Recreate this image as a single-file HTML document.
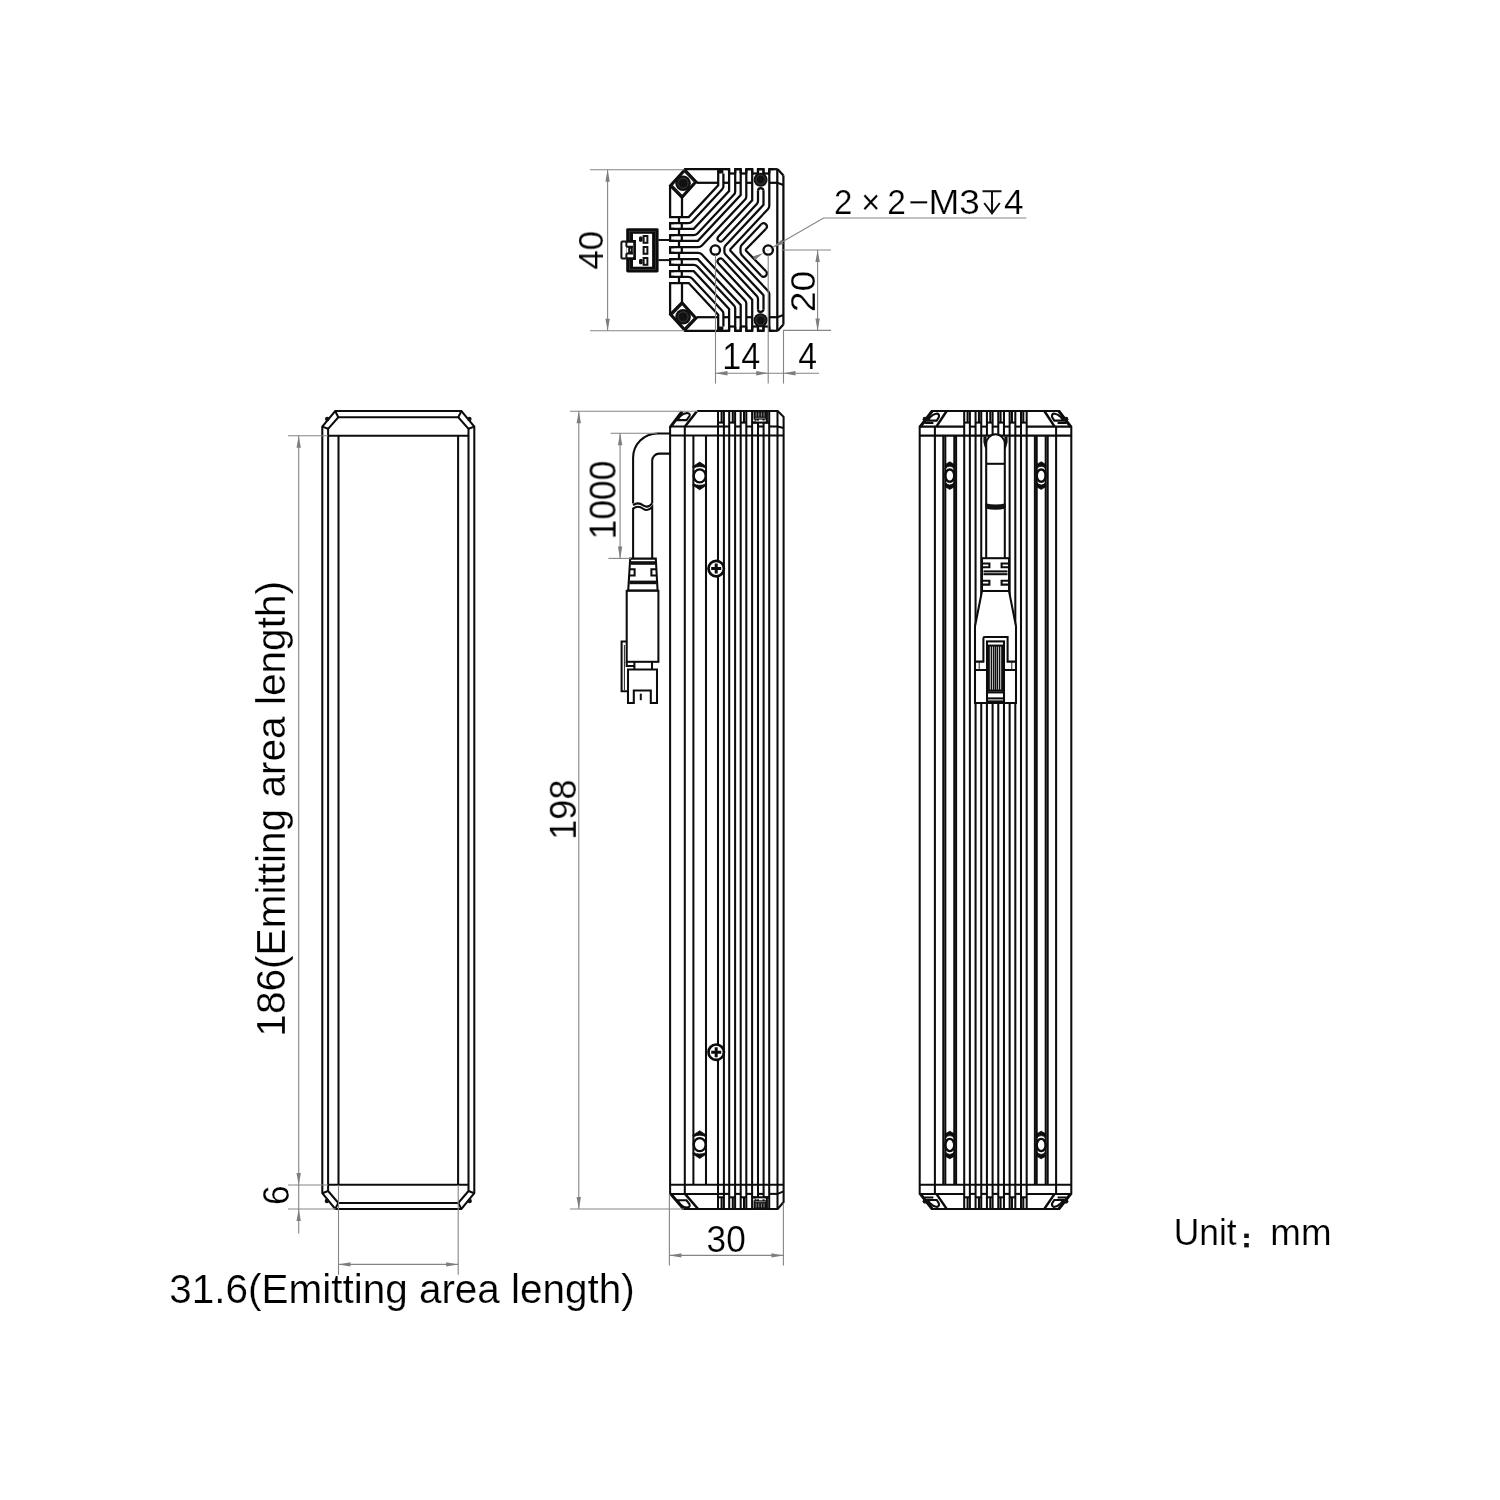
<!DOCTYPE html>
<html><head><meta charset="utf-8"><title>Dimension drawing</title>
<style>
html,body{margin:0;padding:0;background:#fff}
svg{display:block}
.k{fill:none;stroke:#0c0c0c;stroke-width:2.05;stroke-linejoin:miter;stroke-linecap:butt}
.kw{fill:#fff;stroke:#0c0c0c;stroke-width:2.05}
.k25{fill:none;stroke:#0c0c0c;stroke-width:2.5}
.wl{fill:none;stroke:#bbb;stroke-width:0.7}
.wl2{fill:none;stroke:#fff;stroke-width:1.3}
.k1{fill:none;stroke:#222;stroke-width:1}
.k14{fill:none;stroke:#111;stroke-width:1.5}
.kn{fill:none;stroke:#0c0c0c;stroke-width:2.4;stroke-linejoin:miter}
.k2{fill:none;stroke:#111;stroke-width:2}
.k2w{fill:#fff;stroke:#0c0c0c;stroke-width:2.7}
.k3{fill:none;stroke:#0c0c0c;stroke-width:3.0}
.kf{fill:#111;stroke:none}
.kfs{fill:#0c0c0c;stroke:#0c0c0c;stroke-width:0.8;stroke-linejoin:round}
.kt{fill:none;stroke:#0c0c0c;stroke-width:2.25;stroke-linejoin:miter;stroke-linecap:butt}
.ktw{fill:#fff;stroke:#0c0c0c;stroke-width:2.4}
.ring{fill:none;stroke:#555;stroke-width:0.6}
.g{fill:none;stroke:#858585;stroke-width:1.1}
.ar{fill:#7e7e7e;stroke:none}
.gf{fill:none;stroke:#bdbdbd;stroke-width:0.8;stroke-dasharray:1.6 1.2}
.t{font-family:"Liberation Sans",sans-serif;fill:#000;stroke:#fff;stroke-width:0.22px;paint-order:fill stroke}
.ts{fill:none;stroke:#111;stroke-width:2}
</style></head>
<body>
<svg width="1500" height="1500" viewBox="0 0 1500 1500">
<rect width="1500" height="1500" fill="#fff"/>
<g id="left">
<path class="k" d="M335.2 411L461.4 411L474.3 426.6L474.3 1193.2L461.4 1209L335.2 1209L322.3 1193.2L322.3 426.6Z"/>
<path class="k" d="M338.3 417.3L458.3 417.3L468.5 428.8L468.5 1191L458.3 1202.9L338.3 1202.9L328.1 1191L328.1 428.8Z"/>
<path class="k" d="M335.2 411L338.3 417.3"/>
<path class="k" d="M461.4 411L458.3 417.3"/>
<path class="k" d="M322.3 426.6L328.1 428.8"/>
<path class="k" d="M474.3 426.6L468.5 428.8"/>
<path class="k" d="M335.2 1209L338.3 1202.9"/>
<path class="k" d="M461.4 1209L458.3 1202.9"/>
<path class="k" d="M322.3 1193.2L328.1 1191"/>
<path class="k" d="M474.3 1193.2L468.5 1191"/>
<path class="k" d="M328.1 435.7L468.5 435.7"/>
<path class="k" d="M328.1 1184.8L468.5 1184.8"/>
<path class="k" d="M338.5 435.7L338.5 1184.8"/>
<path class="k" d="M458.1 435.7L458.1 1184.8"/>
<circle class="kf" cx="327.2" cy="419" r="2.2"/>
<circle class="kf" cx="469.4" cy="419" r="2.2"/>
<circle class="kf" cx="326.9" cy="1201" r="2.2"/>
<circle class="kf" cx="469.7" cy="1201" r="2.2"/>
</g>
<g id="mid">
<path class="k" d="M697 411L777.7 411L783.6 416.9L783.6 1202L777.7 1208.9L683 1208.9L670.1 1193.9L670.1 426.5L681.6 411.3"/>
<path class="k" d="M670.9 427.1L682.6 411.6"/>
<path class="k" d="M670.9 1193.3L683.8 1208.3"/>
<path class="k" d="M670.1 435.5L783.6 435.5"/>
<path class="k" d="M670.1 1184.8L783.6 1184.8"/>
<path class="k" d="M670.1 426.5L718 426.5"/>
<path class="k" d="M670.1 1193.9L718 1193.9"/>
<path class="k" d="M684.8 435.5L684.8 1184.8"/>
<path class="k" d="M693.4 435.5L693.4 1184.8"/>
<path class="k" d="M706 435.5L706 1184.8"/>
<path class="k" d="M718 435.5L718 1184.8"/>
<path class="k" d="M723.9 435.5L723.9 1184.8"/>
<path class="k" d="M729.2 435.5L729.2 1184.8"/>
<path class="k" d="M735.1 435.5L735.1 1184.8"/>
<path class="k" d="M740.7 435.5L740.7 1184.8"/>
<path class="k" d="M746.3 435.5L746.3 1184.8"/>
<path class="k" d="M752.1 435.5L752.1 1184.8"/>
<path class="k" d="M758 435.5L758 1184.8"/>
<path class="k" d="M763.6 435.5L763.6 1184.8"/>
<path class="k" d="M769.2 435.5L769.2 1184.8"/>
<path class="k" d="M777.5 435.5L777.5 1184.8"/>
<path class="k" d="M684.8 426.5L684.8 435.5"/>
<path class="k" d="M684.8 1184.8L684.8 1193.9"/>
<path class="k" d="M718 411L718 435.5"/>
<path class="k" d="M718 1184.8L718 1208.9"/>
<path class="k" d="M723.9 411L723.9 435.5"/>
<path class="k" d="M723.9 1184.8L723.9 1208.9"/>
<path class="k" d="M729.2 411L729.2 435.5"/>
<path class="k" d="M729.2 1184.8L729.2 1208.9"/>
<path class="k" d="M735.1 411L735.1 435.5"/>
<path class="k" d="M735.1 1184.8L735.1 1208.9"/>
<path class="k" d="M740.7 411L740.7 435.5"/>
<path class="k" d="M740.7 1184.8L740.7 1208.9"/>
<path class="k" d="M746.3 411L746.3 435.5"/>
<path class="k" d="M746.3 1184.8L746.3 1208.9"/>
<path class="k" d="M752.1 411L752.1 435.5"/>
<path class="k" d="M752.1 1184.8L752.1 1208.9"/>
<path class="k" d="M758 411L758 435.5"/>
<path class="k" d="M758 1184.8L758 1208.9"/>
<path class="k" d="M763.6 411L763.6 435.5"/>
<path class="k" d="M763.6 1184.8L763.6 1208.9"/>
<path class="k" d="M769.2 411L769.2 435.5"/>
<path class="k" d="M769.2 1184.8L769.2 1208.9"/>
<path class="k" d="M777.5 411L777.5 435.5"/>
<path class="k" d="M777.5 1184.8L777.5 1208.9"/>
<path class="k" d="M718 422.6L723.9 422.6"/>
<path class="k" d="M721.6 411L721.6 422.6"/>
<path class="k" d="M718 426.5L723.9 426.5"/>
<path class="k" d="M723.9 426.5L729.2 426.5"/>
<path class="k" d="M729.2 422.6L735.1 422.6"/>
<path class="k" d="M732.8 411L732.8 422.6"/>
<path class="k" d="M735.1 426.5L740.7 426.5"/>
<path class="k" d="M740.7 422.6L746.3 422.6"/>
<path class="k" d="M744 411L744 422.6"/>
<path class="k" d="M746.3 426.5L752.1 426.5"/>
<path class="k" d="M752.1 422.6L758 422.6"/>
<path class="k" d="M755.7 411L755.7 422.6"/>
<path class="k" d="M758 426.5L763.6 426.5"/>
<path class="k" d="M763.6 422.6L769.2 422.6"/>
<path class="k" d="M766.9 411L766.9 422.6"/>
<path class="k" d="M769.2 426.5L777.5 426.5"/>
<path class="k" d="M718 1197.3L723.9 1197.3"/>
<path class="k" d="M721.6 1208.9L721.6 1197.3"/>
<path class="k" d="M718 1193.9L723.9 1193.9"/>
<path class="k" d="M723.9 1193.9L729.2 1193.9"/>
<path class="k" d="M729.2 1197.3L735.1 1197.3"/>
<path class="k" d="M732.8 1208.9L732.8 1197.3"/>
<path class="k" d="M735.1 1193.9L740.7 1193.9"/>
<path class="k" d="M740.7 1197.3L746.3 1197.3"/>
<path class="k" d="M744 1208.9L744 1197.3"/>
<path class="k" d="M746.3 1193.9L752.1 1193.9"/>
<path class="k" d="M752.1 1197.3L758 1197.3"/>
<path class="k" d="M755.7 1208.9L755.7 1197.3"/>
<path class="k" d="M758 1193.9L763.6 1193.9"/>
<path class="k" d="M763.6 1197.3L769.2 1197.3"/>
<path class="k" d="M766.9 1208.9L766.9 1197.3"/>
<path class="k" d="M769.2 1193.9L777.5 1193.9"/>
<path class="k" d="M777.5 426.5L783.6 428"/>
<path class="k" d="M777.5 1193.9L783.6 1191.4"/>
<rect class="kf" x="753.6" y="411" width="13.0" height="8.6"/>
<path class="wl" d="M755 418.2L765.4 418.2"/>
<path class="wl2" d="M755.4 421.2L765 421.2"/>
<path class="k" d="M752.1 422.6L769.2 422.6"/>
<path class="wl" d="M756.2 412.4L756.2 416.6"/>
<path class="wl" d="M758.8 412.4L758.8 416.6"/>
<path class="wl" d="M761.4 412.4L761.4 416.6"/>
<path class="wl" d="M764 412.4L764 416.6"/>
<rect class="kf" x="753.6" y="1200.3" width="13.0" height="8.6"/>
<path class="wl" d="M755 1201.7L765.4 1201.7"/>
<path class="wl2" d="M755.4 1198.7L765 1198.7"/>
<path class="k" d="M752.1 1197.3L769.2 1197.3"/>
<path class="wl" d="M756.2 1207.5L756.2 1203.3"/>
<path class="wl" d="M758.8 1207.5L758.8 1203.3"/>
<path class="wl" d="M761.4 1207.5L761.4 1203.3"/>
<path class="wl" d="M764 1207.5L764 1203.3"/>
<path class="k25" d="M685 426.5L696.9 411.2"/>
<path class="k25" d="M685 1193.9L697.9 1208.7"/>
<path class="k" d="M677.3 420.1L680.1 416.3Q682.7 413.3 687.1 412.9Q690.5 413.1 689.5 416.1L686.5 420.1Z"/>
<path class="k" d="M677.3 1200.3L680.1 1204.1Q682.7 1207.1 687.1 1207.5Q690.5 1207.3 689.5 1204.3L686.5 1200.3Z"/>
<path class="kfs" d="M692.8 466.6L699.7 462.1L706.6 466.6L706 468Q699.7 464.9 693.4 468Z"/>
<path class="kfs" d="M692.8 485.2L699.7 489.7L706.6 485.2L706 483.8Q699.7 486.9 693.4 483.8Z"/>
<ellipse class="kn" cx="699.7" cy="475.9" rx="6" ry="6.5"/>
<path class="kfs" d="M692.8 1135.3L699.7 1130.8L706.6 1135.3L706 1136.7Q699.7 1133.6 693.4 1136.7Z"/>
<path class="kfs" d="M692.8 1153.9L699.7 1158.4L706.6 1153.9L706 1152.5Q699.7 1155.6 693.4 1152.5Z"/>
<ellipse class="kn" cx="699.7" cy="1144.6" rx="6" ry="6.5"/>
<circle class="k2w" cx="716.2" cy="568.6" r="7.7"/>
<path class="k3" d="M711.2 568.6H721.2M716.2 563.6V573.6"/>
<circle class="k2w" cx="716.2" cy="1052.2" r="7.7"/>
<path class="k3" d="M711.2 1052.2H721.2M716.2 1047.2V1057.2"/>
<path class="k" d="M670.1 433.4H657.5A24.4 24.4 0 0 0 633.1 457.8V503.4"/>
<path class="k" d="M670.1 453.6H659.2A7 7 0 0 0 652.2 460.6V503.4"/>
<path class="k" d="M633.1 505.2C636.5 502.6 640.5 503.4 643.2 505.4C646.3 507.4 649.6 506.6 652.2 503.4"/>
<path class="k" d="M633.1 558.4V508.6C636.5 506 640.5 506.8 643.2 508.8C646.3 510.8 649.6 510 652.2 506.8V558.4"/>
<path class="kw" d="M630.2 558.6L655.8 558.6L657.6 590.6L628.2 590.6Z"/>
<rect class="kf" x="630.8" y="561.2" width="24.4" height="3.6"/>
<rect class="kf" x="629.4" y="580.6" width="27.2" height="3.6"/>
<path class="k" d="M629.6 569.2H634.6V575.4H629.2"/>
<path class="k" d="M656.4 569.2H651.4V575.4H656.8"/>
<rect class="kw" x="626.7" y="590.8" width="31.7" height="71"/>
<path class="k" d="M626.7 641.4H621.6V691.2H628"/>
<path class="k1" d="M624.4 645V690"/>
<path class="k" d="M626.7 661.8V666H634.4"/>
<path class="k" d="M634.4 661.8V669.4M652 661.8V669.4"/>
<path class="kw" d="M628 669.4H657V703H650.8V690.4H633.8V703H628Z"/>
<path class="k2" d="M640.8 693.6L640.8 700.2"/>
</g>
<g id="right">
<path class="k" d="M931.6 411L1059.4 411L1071.3 426.6L1071.3 1193.9L1059.4 1208.9L931.6 1208.9L919.7 1193.9L919.7 426.6Z"/>
<path class="k" d="M920.5 427.2L932.4 411.6"/>
<path class="k" d="M1070.5 427.2L1058.6 411.6"/>
<path class="k" d="M920.5 1193.3L932.4 1208.3"/>
<path class="k" d="M1070.5 1193.3L1058.6 1208.3"/>
<path class="k" d="M919.7 435.6L1071.3 435.6"/>
<path class="k" d="M919.7 1184.8L1071.3 1184.8"/>
<path class="k" d="M919.7 426.6L964.2 426.6"/>
<path class="k" d="M1026.68 426.6L1071.3 426.6"/>
<path class="k" d="M919.7 1193.9L964.2 1193.9"/>
<path class="k" d="M1026.68 1193.9L1071.3 1193.9"/>
<path class="k" d="M934.9 435.6L934.9 1184.8"/>
<path class="k" d="M1056.1 435.6L1056.1 1184.8"/>
<path class="k" d="M943.3 435.6L943.3 1184.8"/>
<path class="k" d="M1047.7 435.6L1047.7 1184.8"/>
<path class="k" d="M945.3 435.6L945.3 1184.8"/>
<path class="k" d="M1045.7 435.6L1045.7 1184.8"/>
<path class="k" d="M954.3 435.6L954.3 1184.8"/>
<path class="k" d="M1036.7 435.6L1036.7 1184.8"/>
<path class="k" d="M956.1 435.6L956.1 1184.8"/>
<path class="k" d="M1034.9 435.6L1034.9 1184.8"/>
<path class="k" d="M934.9 426.6L934.9 435.6"/>
<path class="k" d="M934.9 1184.8L934.9 1193.9"/>
<path class="k" d="M1056.1 426.6L1056.1 435.6"/>
<path class="k" d="M1056.1 1184.8L1056.1 1193.9"/>
<path class="k" d="M964.2 435.6L964.2 1184.8"/>
<path class="k" d="M964.2 411L964.2 435.6"/>
<path class="k" d="M964.2 1184.8L964.2 1208.9"/>
<path class="k" d="M969.88 435.6L969.88 1184.8"/>
<path class="k" d="M969.88 411L969.88 435.6"/>
<path class="k" d="M969.88 1184.8L969.88 1208.9"/>
<path class="k" d="M975.56 435.6L975.56 1184.8"/>
<path class="k" d="M975.56 411L975.56 435.6"/>
<path class="k" d="M975.56 1184.8L975.56 1208.9"/>
<path class="k" d="M981.24 435.6L981.24 597"/>
<path class="k" d="M981.24 703L981.24 1184.8"/>
<path class="k" d="M981.24 411L981.24 435.6"/>
<path class="k" d="M981.24 1184.8L981.24 1208.9"/>
<path class="k" d="M986.92 703L986.92 1184.8"/>
<path class="k" d="M986.92 411L986.92 435.6"/>
<path class="k" d="M986.92 1184.8L986.92 1208.9"/>
<path class="k" d="M992.6 703L992.6 1184.8"/>
<path class="k" d="M992.6 411L992.6 435.6"/>
<path class="k" d="M992.6 1184.8L992.6 1208.9"/>
<path class="k" d="M998.28 703L998.28 1184.8"/>
<path class="k" d="M998.28 411L998.28 435.6"/>
<path class="k" d="M998.28 1184.8L998.28 1208.9"/>
<path class="k" d="M1003.96 703L1003.96 1184.8"/>
<path class="k" d="M1003.96 411L1003.96 435.6"/>
<path class="k" d="M1003.96 1184.8L1003.96 1208.9"/>
<path class="k" d="M1009.64 435.6L1009.64 597"/>
<path class="k" d="M1009.64 703L1009.64 1184.8"/>
<path class="k" d="M1009.64 411L1009.64 435.6"/>
<path class="k" d="M1009.64 1184.8L1009.64 1208.9"/>
<path class="k" d="M1015.32 435.6L1015.32 1184.8"/>
<path class="k" d="M1015.32 411L1015.32 435.6"/>
<path class="k" d="M1015.32 1184.8L1015.32 1208.9"/>
<path class="k" d="M1021 435.6L1021 1184.8"/>
<path class="k" d="M1021 411L1021 435.6"/>
<path class="k" d="M1021 1184.8L1021 1208.9"/>
<path class="k" d="M1026.68 435.6L1026.68 1184.8"/>
<path class="k" d="M1026.68 411L1026.68 435.6"/>
<path class="k" d="M1026.68 1184.8L1026.68 1208.9"/>
<path class="k" d="M964.2 422.6L969.88 422.6"/>
<path class="k" d="M967.58 411L967.58 422.6"/>
<path class="k" d="M969.88 426.6L975.56 426.6"/>
<path class="k" d="M975.56 422.6L981.24 422.6"/>
<path class="k" d="M978.94 411L978.94 422.6"/>
<path class="k" d="M981.24 426.6L986.92 426.6"/>
<path class="k" d="M986.92 422.6L992.6 422.6"/>
<path class="k" d="M990.3 411L990.3 422.6"/>
<path class="k" d="M992.6 426.6L998.28 426.6"/>
<path class="k" d="M998.28 422.6L1003.96 422.6"/>
<path class="k" d="M1000.58 411L1000.58 422.6"/>
<path class="k" d="M1003.96 426.6L1009.64 426.6"/>
<path class="k" d="M1009.64 422.6L1015.32 422.6"/>
<path class="k" d="M1011.94 411L1011.94 422.6"/>
<path class="k" d="M1015.32 426.6L1021 426.6"/>
<path class="k" d="M1021 422.6L1026.68 422.6"/>
<path class="k" d="M1023.3 411L1023.3 422.6"/>
<path class="k" d="M964.2 1197.3L969.88 1197.3"/>
<path class="k" d="M967.58 1208.9L967.58 1197.3"/>
<path class="k" d="M969.88 1193.9L975.56 1193.9"/>
<path class="k" d="M975.56 1197.3L981.24 1197.3"/>
<path class="k" d="M978.94 1208.9L978.94 1197.3"/>
<path class="k" d="M981.24 1193.9L986.92 1193.9"/>
<path class="k" d="M986.92 1197.3L992.6 1197.3"/>
<path class="k" d="M990.3 1208.9L990.3 1197.3"/>
<path class="k" d="M992.6 1193.9L998.28 1193.9"/>
<path class="k" d="M998.28 1197.3L1003.96 1197.3"/>
<path class="k" d="M1000.58 1208.9L1000.58 1197.3"/>
<path class="k" d="M1003.96 1193.9L1009.64 1193.9"/>
<path class="k" d="M1009.64 1197.3L1015.32 1197.3"/>
<path class="k" d="M1011.94 1208.9L1011.94 1197.3"/>
<path class="k" d="M1015.32 1193.9L1021 1193.9"/>
<path class="k" d="M1021 1197.3L1026.68 1197.3"/>
<path class="k" d="M1023.3 1208.9L1023.3 1197.3"/>
<path class="k25" d="M936.4 426.6L946.5 411.3"/>
<path class="k" d="M927.7 420.6L930.3 417Q933.1 414 937.1 413.6Q939.5 414.2 938.9 417L936.7 420.6Z"/>
<path class="k" d="M924.4 423L933.4 423"/>
<circle class="kf" cx="925" cy="419.2" r="2.4"/>
<path class="k25" d="M1054.6 426.6L1044.5 411.3"/>
<path class="k" d="M1063.3 420.6L1060.7 417Q1057.9 414 1053.9 413.6Q1051.5 414.2 1052.1 417L1054.3 420.6Z"/>
<path class="k" d="M1066.6 423L1057.6 423"/>
<circle class="kf" cx="1066" cy="419.2" r="2.4"/>
<path class="k25" d="M936.4 1193.9L946.5 1208.6"/>
<path class="k" d="M927.7 1199.9L930.3 1203.5Q933.1 1206.5 937.1 1206.9Q939.5 1206.3 938.9 1203.5L936.7 1199.9Z"/>
<path class="k" d="M924.4 1197.5L933.4 1197.5"/>
<circle class="kf" cx="925" cy="1201.3" r="2.4"/>
<path class="k25" d="M1054.6 1193.9L1044.5 1208.6"/>
<path class="k" d="M1063.3 1199.9L1060.7 1203.5Q1057.9 1206.5 1053.9 1206.9Q1051.5 1206.3 1052.1 1203.5L1054.3 1199.9Z"/>
<path class="k" d="M1066.6 1197.5L1057.6 1197.5"/>
<circle class="kf" cx="1066" cy="1201.3" r="2.4"/>
<path class="kfs" d="M945.3 464.4L949.8 461.8L954.3 464.4L954.3 468.6Q949.8 463.8 945.3 468.6Z"/>
<path class="kfs" d="M945.3 486.8L949.8 489.4L954.3 486.8L954.3 482.6Q949.8 487.4 945.3 482.6Z"/>
<ellipse class="kn" cx="949.8" cy="475.6" rx="4.5" ry="6.1"/>
<path class="kfs" d="M945.3 1133.8L949.8 1131.2L954.3 1133.8L954.3 1138Q949.8 1133.2 945.3 1138Z"/>
<path class="kfs" d="M945.3 1156.2L949.8 1158.8L954.3 1156.2L954.3 1152Q949.8 1156.8 945.3 1152Z"/>
<ellipse class="kn" cx="949.8" cy="1145" rx="4.5" ry="6.1"/>
<path class="kfs" d="M1036.7 464.4L1041.2 461.8L1045.7 464.4L1045.7 468.6Q1041.2 463.8 1036.7 468.6Z"/>
<path class="kfs" d="M1036.7 486.8L1041.2 489.4L1045.7 486.8L1045.7 482.6Q1041.2 487.4 1036.7 482.6Z"/>
<ellipse class="kn" cx="1041.2" cy="475.6" rx="4.5" ry="6.1"/>
<path class="kfs" d="M1036.7 1133.8L1041.2 1131.2L1045.7 1133.8L1045.7 1138Q1041.2 1133.2 1036.7 1138Z"/>
<path class="kfs" d="M1036.7 1156.2L1041.2 1158.8L1045.7 1156.2L1045.7 1152Q1041.2 1156.8 1036.7 1152Z"/>
<ellipse class="kn" cx="1041.2" cy="1145" rx="4.5" ry="6.1"/>
<path class="kf" d="M983.4 436.4V442Q984.2 447 986.6 451V436.4Z"/>
<path class="kf" d="M1007.6 436.4V442Q1006.8 447 1004.4 451V436.4Z"/>
<path class="kw" d="M986.2 558V444A9.3 9.7 0 0 1 1004.8 444V558"/>
<path class="k" d="M986.2 463.8L1004.8 463.8"/>
<path class="kf" d="M985.3 503.2Q995.5 505.6 1005.7 503.2V508.6Q995.5 511 985.3 508.6Z"/>
<rect class="kw" x="982" y="558.2" width="27" height="32.8"/>
<path class="k" d="M983.5 571.4L1007.5 571.4"/>
<path class="k" d="M983.5 574.2L1007.5 574.2"/>
<path class="k" d="M982 563.4H989.4V567.2H982"/>
<path class="k" d="M1009 563.4H1001.6V567.2H1009"/>
<path class="k" d="M982 580.8H989.4V584.6H982"/>
<path class="k" d="M1009 580.8H1001.6V584.6H1009"/>
<path class="kw" d="M982 591L975 626.4V703H1016V626.4L1009 591Z"/>
<path class="k" d="M975 661.6H983.4V638.2Q983.4 637 984.8 637H1007.6V661.6H1016"/>
<path class="k" d="M975 670L1016 670"/>
<path class="k1" d="M979.2 661.6L979.2 670"/>
<path class="k1" d="M1011.8 661.6L1011.8 670"/>
<rect class="kw" x="987" y="641.4" width="17" height="60"/>
<rect class="k" x="988.8" y="645.6" width="13.4" height="45"/>
<path class="k14" d="M991.4 645.6L991.4 690.6"/>
<path class="k14" d="M993.6 645.6L993.6 690.6"/>
<path class="k14" d="M995.5 645.6L995.5 690.6"/>
<path class="k14" d="M997.4 645.6L997.4 690.6"/>
<path class="k14" d="M999.6 645.6L999.6 690.6"/>
<path class="k" d="M987 692.4L1004 692.4"/>
<path class="k" d="M987 698.4L1004 698.4"/>
</g>
<g id="top">
<g>
<path class="kt" d="M684.7 169.2L729.1 169.2"/>
<path class="kt" d="M735.2 169.2L740.7 169.2"/>
<path class="kt" d="M746.3 169.2L752.2 169.2"/>
<path class="kt" d="M758 169.2L763.5 169.2"/>
<path class="kt" d="M769.3 169.2L777.7 169.2"/>
<path class="kt" d="M729.1 173.5L735.2 173.5"/>
<path class="kt" d="M740.7 173.5L746.3 173.5"/>
<path class="kt" d="M752.2 173.5L758 173.5"/>
<path class="kt" d="M763.5 173.5L769.3 173.5"/>
<path class="kt" d="M735.2 173.2V169.2H740.7V173.2"/>
<path class="kt" d="M746.3 173.2V169.2H752.2V173.2"/>
<path class="kt" d="M758 173.2V169.2H763.5V173.2"/>
<path class="kt" d="M725.1 169.2H729.1V173.2"/>
<path class="kt" d="M769.3 173.2V169.2H773.3"/>
<rect class="kf" x="718.2" y="168.9" width="5.2" height="4.6"/>
<path class="kt" d="M696.4 182.8L718.2 182.8"/>
<path class="kt" d="M723.4 182.8L729.1 182.8"/>
<path class="kt" d="M735.2 182.8L740.7 182.8"/>
<path class="kt" d="M746.3 182.8L752.2 182.8"/>
<path class="kt" d="M769.3 182.8L777.3 182.8"/>
<path class="kt" d="M777.7 169.2L783.4 175.4"/>
<path class="kt" d="M777.3 182.8L783.4 185"/>
<path class="kt" d="M783.4 175.4L783.4 250"/>
<path class="kt" d="M777.3 169.2L777.3 250"/>
<path class="kt" d="M670.1 185.6L684.7 169.5L696.4 181.8L682 197.8Z"/>
<path class="k14" d="M671.95 185.33L684.5 171.48L694.57 182.06L682.18 195.82Z"/>
<circle class="kf" cx="683.1" cy="183.2" r="7.8"/>
<circle class="ring" cx="683.1" cy="183.2" r="5"/>
<path class="kt" d="M682 197.8L682 217"/>
<path class="kt" d="M670.1 185.6L670.1 217L688.7 217L718.2 185.2L718.2 169.2"/>
<path class="kt" d="M723.4 173.5L723.4 186.22Q723.4 188 722.19 189.3L692.14 221.46Q690.51 223.2 688.12 223.2L670.1 223.2"/>
<path class="kt" d="M729.1 169.2L729.1 191L693.76 228.8L670.1 228.8"/>
<path class="kt" d="M735.2 169.2L735.2 191.42Q735.2 193.2 733.99 194.5L697.52 233.46Q695.89 235.2 693.5 235.2L670.1 235.2"/>
<path class="kt" d="M740.7 169.2L740.7 195L697.88 240.8L670.1 240.8"/>
<path class="kt" d="M746.3 169.2L746.3 196.52Q746.3 198.3 745.08 199.6L701.96 245.47Q700.33 247.2 697.95 247.2L670.1 247.2"/>
<path class="kt" d="M674.1 223.2H670.1V228.8H674.1"/>
<path class="kt" d="M681.8 223.2L681.8 228.8"/>
<path class="kt" d="M674.1 235.2H670.1V240.8H674.1"/>
<path class="kt" d="M681.8 235.2L681.8 240.8"/>
<path class="kt" d="M674.1 247.2H670.1V250"/>
<path class="kt" d="M681.8 247.2L681.8 250"/>
<path class="kt" d="M679 217L679 223.2"/>
<path class="kt" d="M679 228.8L679 235.2"/>
<path class="kt" d="M679 240.8L679 247.2"/>
<path class="kt" d="M752.2 169.2L752.2 200.37L718.25 236.69A2.95 2.95 0 0 0 722.55 240.71"/>
<path class="kt" d="M722.55 240.71L756.79 204.1Q758 202.8 758 201.03L758 190.8"/>
<path class="kt" d="M758 190.8A2.75 2.75 0 0 1 763.5 190.8"/>
<path class="kt" d="M763.5 190.8L763.5 204.8L725.53 245.41Q724.4 246.62 724.4 248.28L724.4 250"/>
<path class="kt" d="M769.3 169.2L769.3 205.87Q769.3 207.65 768.09 208.94L729.7 250"/>
<path class="kt" d="M761.19 224.25L741.71 245.08Q740.5 246.38 740.5 248.15L740.5 250"/>
<path class="kt" d="M761.19 224.25A3.3 3.3 0 0 1 766.01 228.75"/>
<path class="kt" d="M766.01 228.75L745.29 250"/>
<path class="kt" d="M758 169.2L758 174.5"/>
<path class="kt" d="M763.5 169.2L763.5 174.5"/>
<circle class="kf" cx="760.6" cy="179.7" r="7"/>
<circle class="ring" cx="760.6" cy="179.7" r="4.6"/>
</g>
<g transform="translate(0 500) scale(1 -1)">
<path class="kt" d="M684.7 169.2L729.1 169.2"/>
<path class="kt" d="M735.2 169.2L740.7 169.2"/>
<path class="kt" d="M746.3 169.2L752.2 169.2"/>
<path class="kt" d="M758 169.2L763.5 169.2"/>
<path class="kt" d="M769.3 169.2L777.7 169.2"/>
<path class="kt" d="M729.1 173.5L735.2 173.5"/>
<path class="kt" d="M740.7 173.5L746.3 173.5"/>
<path class="kt" d="M752.2 173.5L758 173.5"/>
<path class="kt" d="M763.5 173.5L769.3 173.5"/>
<path class="kt" d="M735.2 173.2V169.2H740.7V173.2"/>
<path class="kt" d="M746.3 173.2V169.2H752.2V173.2"/>
<path class="kt" d="M758 173.2V169.2H763.5V173.2"/>
<path class="kt" d="M725.1 169.2H729.1V173.2"/>
<path class="kt" d="M769.3 173.2V169.2H773.3"/>
<rect class="kf" x="718.2" y="168.9" width="5.2" height="4.6"/>
<path class="kt" d="M696.4 182.8L718.2 182.8"/>
<path class="kt" d="M723.4 182.8L729.1 182.8"/>
<path class="kt" d="M735.2 182.8L740.7 182.8"/>
<path class="kt" d="M746.3 182.8L752.2 182.8"/>
<path class="kt" d="M769.3 182.8L777.3 182.8"/>
<path class="kt" d="M777.7 169.2L783.4 175.4"/>
<path class="kt" d="M777.3 182.8L783.4 185"/>
<path class="kt" d="M783.4 175.4L783.4 250"/>
<path class="kt" d="M777.3 169.2L777.3 250"/>
<path class="kt" d="M670.1 185.6L684.7 169.5L696.4 181.8L682 197.8Z"/>
<path class="k14" d="M671.95 185.33L684.5 171.48L694.57 182.06L682.18 195.82Z"/>
<circle class="kf" cx="683.1" cy="183.2" r="7.8"/>
<circle class="ring" cx="683.1" cy="183.2" r="5"/>
<path class="kt" d="M682 197.8L682 217"/>
<path class="kt" d="M670.1 185.6L670.1 217L688.7 217L718.2 185.2L718.2 169.2"/>
<path class="kt" d="M723.4 173.5L723.4 186.22Q723.4 188 722.19 189.3L692.14 221.46Q690.51 223.2 688.12 223.2L670.1 223.2"/>
<path class="kt" d="M729.1 169.2L729.1 191L693.76 228.8L670.1 228.8"/>
<path class="kt" d="M735.2 169.2L735.2 191.42Q735.2 193.2 733.99 194.5L697.52 233.46Q695.89 235.2 693.5 235.2L670.1 235.2"/>
<path class="kt" d="M740.7 169.2L740.7 195L697.88 240.8L670.1 240.8"/>
<path class="kt" d="M746.3 169.2L746.3 196.52Q746.3 198.3 745.08 199.6L701.96 245.47Q700.33 247.2 697.95 247.2L670.1 247.2"/>
<path class="kt" d="M674.1 223.2H670.1V228.8H674.1"/>
<path class="kt" d="M681.8 223.2L681.8 228.8"/>
<path class="kt" d="M674.1 235.2H670.1V240.8H674.1"/>
<path class="kt" d="M681.8 235.2L681.8 240.8"/>
<path class="kt" d="M674.1 247.2H670.1V250"/>
<path class="kt" d="M681.8 247.2L681.8 250"/>
<path class="kt" d="M679 217L679 223.2"/>
<path class="kt" d="M679 228.8L679 235.2"/>
<path class="kt" d="M679 240.8L679 247.2"/>
<path class="kt" d="M752.2 169.2L752.2 200.37L718.25 236.69A2.95 2.95 0 0 0 722.55 240.71"/>
<path class="kt" d="M722.55 240.71L756.79 204.1Q758 202.8 758 201.03L758 190.8"/>
<path class="kt" d="M758 190.8A2.75 2.75 0 0 1 763.5 190.8"/>
<path class="kt" d="M763.5 190.8L763.5 204.8L725.53 245.41Q724.4 246.62 724.4 248.28L724.4 250"/>
<path class="kt" d="M769.3 169.2L769.3 205.87Q769.3 207.65 768.09 208.94L729.7 250"/>
<path class="kt" d="M761.19 224.25L741.71 245.08Q740.5 246.38 740.5 248.15L740.5 250"/>
<path class="kt" d="M761.19 224.25A3.3 3.3 0 0 1 766.01 228.75"/>
<path class="kt" d="M766.01 228.75L745.29 250"/>
<path class="kt" d="M758 169.2L758 174.5"/>
<path class="kt" d="M763.5 169.2L763.5 174.5"/>
<circle class="kf" cx="760.6" cy="179.7" r="7"/>
<circle class="ring" cx="760.6" cy="179.7" r="4.6"/>
</g>
<circle class="ktw" cx="715.3" cy="250.1" r="4.7"/>
<circle class="ktw" cx="768.2" cy="250.1" r="4.7"/>
<path class="k2" d="M658.4 240L670.1 240"/>
<path class="k2" d="M658.4 260.1L670.1 260.1"/>
<rect x="626.2" y="228.2" width="32.4" height="44.3" rx="1.4" fill="#0c0c0c"/>
<rect x="633.0" y="233.8" width="19.1" height="32.9" fill="#fff"/>
<rect x="629.4" y="231.2" width="26.2" height="38.4" fill="none" stroke="#555" stroke-width="0.5"/>
<rect class="k2" x="643.6" y="236" width="3.8" height="6.8"/>
<rect class="k2" x="643.6" y="247" width="3.8" height="6.8"/>
<rect class="k2" x="643.6" y="258" width="3.8" height="6.8"/>
<rect class="kf" x="639.0" y="236.6" width="3.6" height="5.2" rx="1.2"/>
<rect class="kf" x="639.0" y="259.0" width="3.6" height="5.2" rx="1.2"/>
<path class="k2" d="M626.4 241.4H622.4Q621.4 241.4 621.4 242.4V257.6Q621.4 258.6 622.4 258.6H626.4"/>
<path class="k2w" d="M626.4 241.4H634.6V258.6H626.4"/>
<path class="k2" d="M626.4 246.8H633.0M626.4 253.4H633.0M626.4 246.8V241.4M626.4 253.4V258.6"/>
<rect class="k2" x="629.2" y="247.6" width="2.6" height="4.8"/>
</g>
<g id="dims">
<path class="g" d="M590 169.7L684.5 169.7"/>
<path class="g" d="M590 330.7L684.5 330.7"/>
<path class="g" d="M607.6 169.7L607.6 330.7"/>
<path class="ar" d="M607.6 169.7L605.4 181.7L609.8 181.7Z"/>
<path class="ar" d="M607.6 330.7L609.8 318.7L605.4 318.7Z"/>
<path class="g" d="M781.5 250L831 250"/>
<path class="g" d="M783 330.4L831 330.4"/>
<path class="g" d="M817.6 250L817.6 330.4"/>
<path class="ar" d="M817.6 250L815.4 262L819.8 262Z"/>
<path class="ar" d="M817.6 330.4L819.8 318.4L815.4 318.4Z"/>
<path class="g" d="M715.5 255L715.5 383.6"/>
<path class="g" d="M768.2 255L768.2 383.6"/>
<path class="g" d="M783.5 331L783.5 383.6"/>
<path class="g" d="M715.5 373.2L819 373.2"/>
<path class="ar" d="M715.5 373.2L727.5 375.4L727.5 371Z"/>
<path class="ar" d="M768.2 373.2L756.2 371L756.2 375.4Z"/>
<path class="ar" d="M783.5 373.2L795.5 375.4L795.5 371Z"/>
<path class="g" d="M1026.4 218H823.6L773.39 247.09"/>
<path class="gf" d="M771.14 248.4L765.26 251.8"/>
<path class="ar" d="M773.05 247.29L783.67 243.68L781.46 239.87Z"/>
<path class="ar" d="M763.35 252.91L752.73 256.52L754.94 260.33Z"/>
<path class="g" d="M288 435.7L328 435.7"/>
<path class="g" d="M288 1185L328 1185"/>
<path class="g" d="M288 1209L336 1209"/>
<path class="g" d="M298.7 435.7L298.7 1233.6"/>
<path class="ar" d="M298.7 435.7L296.5 447.7L300.9 447.7Z"/>
<path class="ar" d="M298.7 1185L300.9 1173L296.5 1173Z"/>
<path class="ar" d="M298.7 1209L296.5 1221L300.9 1221Z"/>
<path class="g" d="M338.5 1185L338.5 1274.8"/>
<path class="g" d="M458.2 1185L458.2 1274.8"/>
<path class="g" d="M338.5 1264.4L458.2 1264.4"/>
<path class="ar" d="M338.5 1264.4L350.5 1266.6L350.5 1262.2Z"/>
<path class="ar" d="M458.2 1264.4L446.2 1262.2L446.2 1266.6Z"/>
<path class="g" d="M570 411.2L698 411.2"/>
<path class="g" d="M570 1209L684 1209"/>
<path class="g" d="M578.8 411.3L578.8 1209"/>
<path class="ar" d="M578.8 411.3L576.6 423.3L581 423.3Z"/>
<path class="ar" d="M578.8 1209L581 1197L576.6 1197Z"/>
<path class="g" d="M610.6 433.3L657 433.3"/>
<path class="g" d="M608.4 558.4L631 558.4"/>
<path class="g" d="M620.1 433.3L620.1 558.4"/>
<path class="ar" d="M620.1 433.3L617.9 445.3L622.3 445.3Z"/>
<path class="ar" d="M620.1 558.4L622.3 546.4L617.9 546.4Z"/>
<path class="g" d="M669.4 1194L669.4 1265.6"/>
<path class="g" d="M783.4 1203L783.4 1265.6"/>
<path class="g" d="M669.4 1255.4L783.4 1255.4"/>
<path class="ar" d="M669.4 1255.4L681.4 1257.6L681.4 1253.2Z"/>
<path class="ar" d="M783.4 1255.4L771.4 1253.2L771.4 1257.6Z"/>
</g>
<g id="txt" style="filter:grayscale(1)">
<text class="t" font-size="35.94" transform="translate(603 269.6) rotate(-90) scale(0.9679 1)">40</text>
<text class="t" font-size="35.94" transform="translate(815 312.27) rotate(-90) scale(1.0423 1)">20</text>
<text class="t" font-size="36.81" transform="translate(575.8 839.81) rotate(-90) scale(0.9815 1)">198</text>
<text class="t" font-size="37.1" transform="translate(615.6 539.46) rotate(-90) scale(0.9558 1)">1000</text>
<text class="t" font-size="37.1" transform="translate(289 1204.96) rotate(-90) scale(0.9506 1)">6</text>
<text class="t" font-size="40.87" transform="translate(285.2 1036.64) rotate(-90) scale(0.9931 1)">186(Emitting area length)</text>
<text class="t" font-size="37.1" transform="translate(722.13 368.7) scale(0.9233 1)">14</text>
<text class="t" font-size="37.1" transform="translate(798.33 368.7) scale(0.9090 1)">4</text>
<text class="t" font-size="37.1" transform="translate(706.57 1251.8) scale(0.9485 1)">30</text>
<text class="t" font-size="40.87" transform="translate(169.28 1302.7) scale(0.9903 1)">31.6(Emitting area length)</text>
<text class="t" font-size="36.81" transform="translate(1173.74 1245) scale(0.9620 1)">Unit</text>
<text class="t" font-size="36.81" transform="translate(1270.31 1245) scale(0.9984 1)">mm</text>
<rect x="1244.2" y="1233.6" width="4.6" height="4.4" fill="#111"/>
<rect x="1244.2" y="1243.0" width="4.6" height="4.4" fill="#111"/>
<text class="t" font-size="34.78" transform="translate(833.95 214.2) scale(0.9500 1)">2</text>
<text class="t" font-size="34.78" transform="translate(861.29 214.2) scale(0.9328 1)">×</text>
<text class="t" font-size="34.78" transform="translate(887.33 214.2) scale(0.9625 1)">2</text>
<text class="t" font-size="34.78" transform="translate(908.22 214.2) scale(1.0106 1)">−</text>
<text class="t" font-size="34.78" transform="translate(928.54 214.2) scale(1.0640 1)">M3</text>
<path class="ts" d="M982.5 191.2H1001.5M992 191.2V212M984.2 203L992 213.4L999.8 203"/>
<text class="t" font-size="34.78" transform="translate(1003.89 214.2) scale(1.0147 1)">4</text>
</g>
</svg>
</body></html>
